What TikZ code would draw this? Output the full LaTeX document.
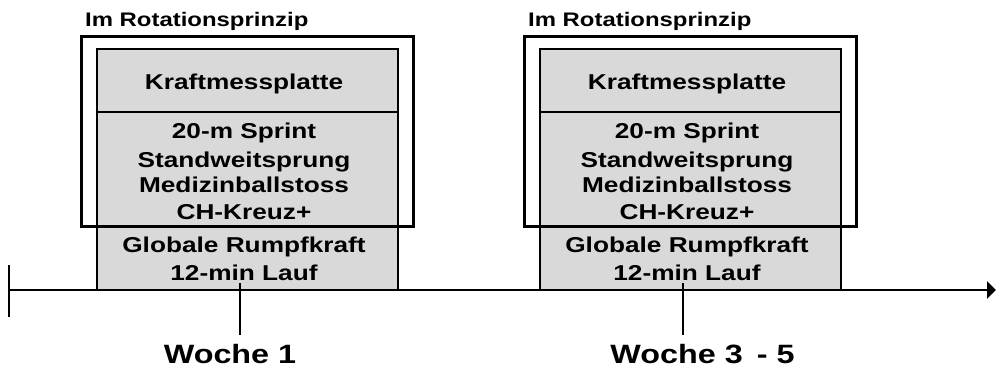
\documentclass[tikz,border=0pt]{standalone}
\usepackage{fontspec}
\setmainfont{Liberation Sans}[FakeStretch=1.22]
\usetikzlibrary{arrows.meta}
\definecolor{boxgrey}{RGB}{217,217,217}
\tikzset{
  greybox/.style={fill=boxgrey, draw=black, line width=2pt},
  outerbox/.style={draw=black, line width=3pt},
  txt/.style={anchor=base, inner sep=0pt, font=\fontsize{21.5}{24}\selectfont\bfseries},
  ttl/.style={anchor=base west, inner sep=0pt, font=\fontsize{19.6}{22}\selectfont\bfseries},
  wk/.style={anchor=base, inner sep=0pt, font=\fontsize{26.5}{30}\selectfont\bfseries},
  tick/.style={draw=black, line width=2pt},
  axis/.style={draw=black, line width=2.2pt, -{Triangle[length=9pt,width=17pt]}}
}
\begin{document}
\begin{tikzpicture}[x=1pt,y=-1pt]
\useasboundingbox (0,0) rectangle (996,367);
% groups
\foreach \dx/\nm in {0/a,443/b}{
  \begin{scope}[xshift=\dx pt]
    \node[ttl] (title\nm) at (85,26) {Im Rotationsprinzip};
    \path[greybox] (97,49) rectangle (398,290);
    \draw[line width=2pt] (97,112) -- (398,112);
    \path[outerbox] (81.5,36.5) rectangle (413.5,226);
    \node[txt] (kraft\nm) at (244,89.7) {Kraftmessplatte};
    \node[txt] (sprint\nm) at (244,138.7) {20-m Sprint};
    \node[txt] (stand\nm) at (244,167) {Standweitsprung};
    \node[txt] (med\nm) at (244,192) {Medizinballstoss};
    \node[txt] (ch\nm) at (244,219.5) {CH-Kreuz+};
    \node[txt] (glob\nm) at (244,252.5) {Globale Rumpfkraft};
    \node[txt] (lauf\nm) at (244,280) {12-min Lauf};
    \coordinate (tt\nm) at (240,283);
    \coordinate (tb\nm) at (240,335);
  \end{scope}
}
\node[wk] (woche1) at (230,363) {Woche 1};
\node[wk] (woche2) at (702.5,363) {Woche 3\hspace{5pt} - 5};
\coordinate (start) at (9,290);
\coordinate (end) at (996,290);
\coordinate (lt) at (9,265);
\coordinate (lb) at (9,317);
\path[axis] (start) -- (end);
\path[tick] (lt) -- (lb);
\path[tick] (tta) -- (tba);
\path[tick] (ttb) -- (tbb);
\end{tikzpicture}
\end{document}
